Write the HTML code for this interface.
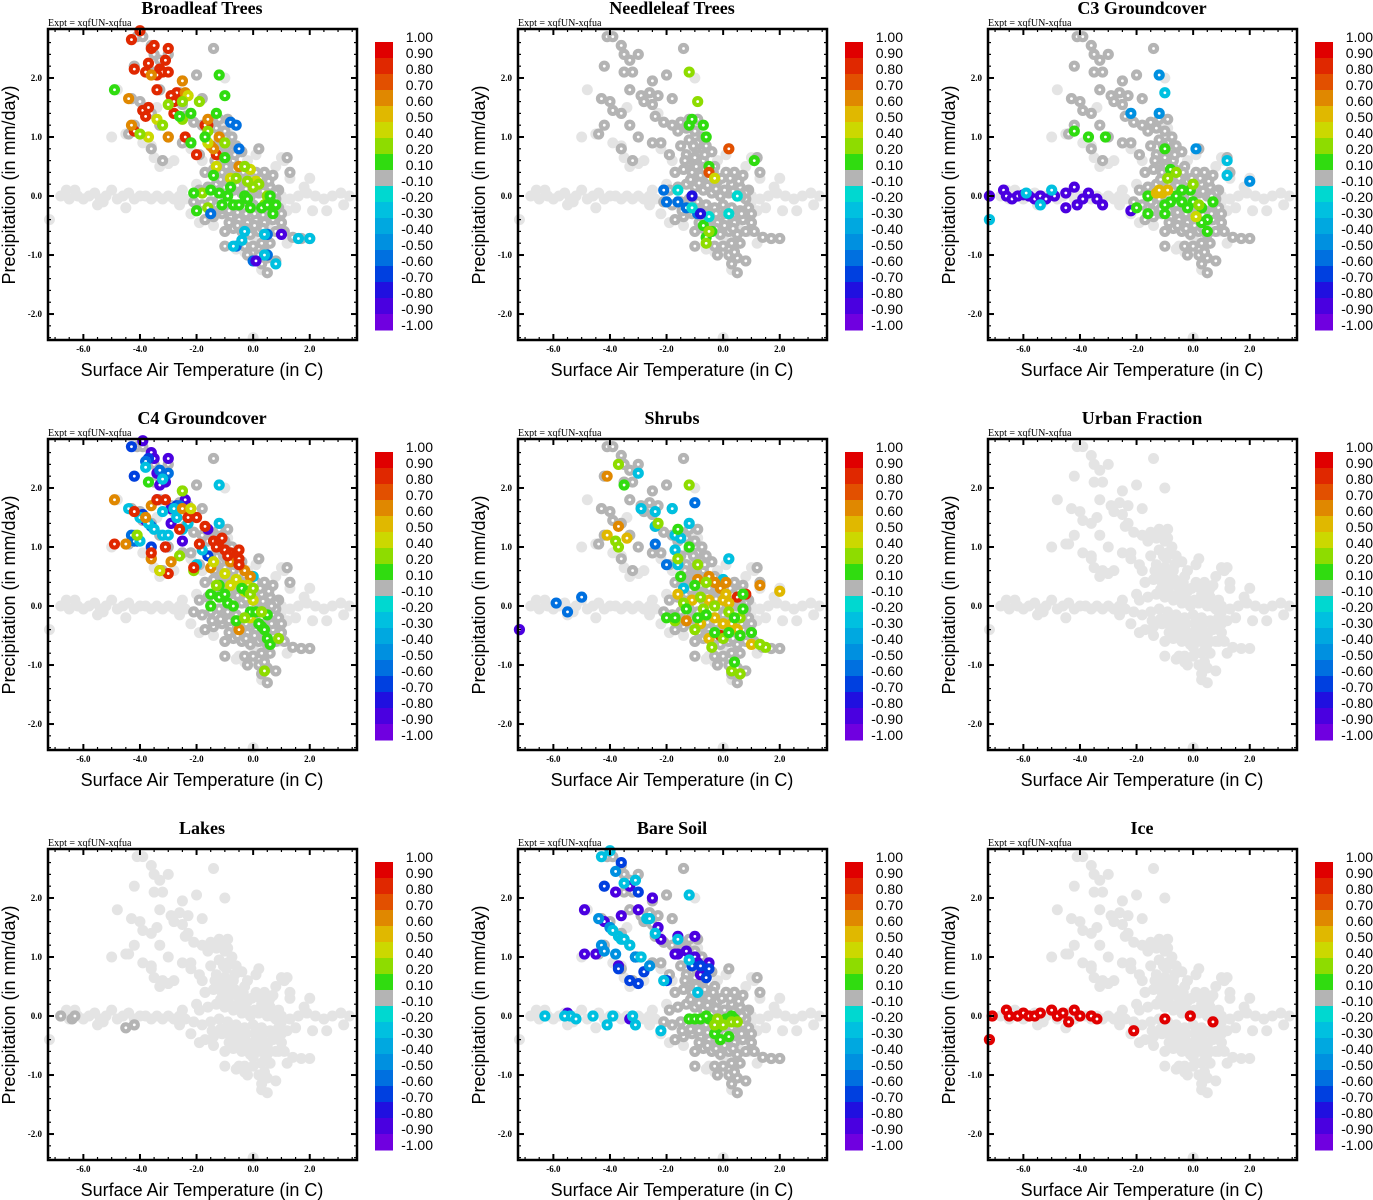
<!DOCTYPE html>
<html><head><meta charset="utf-8"><style>
html,body{margin:0;padding:0;background:#fff;}
svg{display:block;}
</style></head><body>
<svg id="fig" width="1373" height="1200" viewBox="0 0 1373 1200" xmlns="http://www.w3.org/2000/svg"></svg>
<script>
// ---------- data ----------
const panelTitles = ["Broadleaf Trees","Needleleaf Trees","C3 Groundcover","C4 Groundcover","Shrubs","Urban Fraction","Lakes","Bare Soil","Ice"];
const xTicks = [-6,-4,-2,0,2];
const xTickLabels = ["-6.0","-4.0","-2.0","0.0","2.0"];
const yTicks = [-2,-1,0,1,2];
const yTickLabels = ["-2.0","-1.0","0.0","1.0","2.0"];
const cbLabels = ["1.00","0.90","0.80","0.70","0.60","0.50","0.40","0.20","0.10","-0.10","-0.20","-0.30","-0.40","-0.50","-0.60","-0.70","-0.80","-0.90","-1.00"];
const cbBounds = [1,0.9,0.8,0.7,0.6,0.5,0.4,0.2,0.1,-0.1,-0.2,-0.3,-0.4,-0.5,-0.6,-0.7,-0.8,-0.9,-1];
const cbColors = ["#e00000","#e02800","#e25000","#e08800","#e0b800","#ccd800","#8edc00","#30dc10","#b4b4b4","#00d8d0","#00c0e0","#00a8e0","#0090e0","#0070e0","#0040e0","#2010e0","#4a00e0","#7000e0"];

// light background cloud (all panels)
const lightX = [-7.2,-6.8,-6.6,-6.5,-6.2,-6.0,-5.8,-5.6,-5.4,-5.2,-5.0,-4.8,-4.6,-4.4,-4.2,-4.0,-3.8,-3.6,-3.4,-3.2,-3.0,-2.8,-2.6,-2.4,-5.5,-4.5,-5.3,1.0,1.3,1.6,1.9,2.2,2.5,2.8,3.1,3.4,1.2,1.5,2.1,2.6,3.2,1.8,2.0,-6.3,
 -5.0,-4.8,-4.5,-3.6,-3.5,-2.2,-2.8,-3.0,-1.8,-1.2,-0.9,-1.0,1.0,1.1,0.6,1.3,0.0,-0.5,0.5,0.9,1.2,0.3,-3.4,-2.3,
 -2.0,-1.7,-2.2,-0.3,0.0,0.4,1.0,0.8,-0.6,-0.2,0.1,-1.4,-1.9,-2.5,-2.6,-3.9,-3.3];
const lightY = [-0.4,0.0,0.1,-0.05,0.0,-0.05,0.0,0.05,-0.05,0.0,0.1,-0.05,0.0,0.05,-0.05,0.0,0.0,-0.05,0.0,-0.05,0.0,-0.05,0.0,-0.05,-0.15,-0.2,-0.1,0.0,-0.05,0.0,0.05,0.0,-0.05,0.0,0.05,0.0,-0.25,-0.2,-0.25,-0.25,-0.15,0.15,0.3,0.1,
 1.0,1.8,1.05,0.85,0.65,0.8,0.6,0.55,0.6,1.25,1.15,2.0,0.65,0.6,0.3,0.3,-2.4,-0.85,-0.5,-0.6,-0.8,-1.25,1.5,1.4,
 0.2,0.4,-0.3,-0.95,-0.7,-0.75,-0.1,0.5,-0.9,0.6,0.7,-0.5,-0.45,0.1,-0.15,0.9,0.5];

// diagonal core cloud (dark gray in most panels, light in others)
const coreX = [-4.1,-3.9,-3.6,-3.5,-3.3,-3.0,-3.2,-4.2,-3.5,-1.4,-2.0,-2.5,-3.3,-2.9,-2.6,-2.3,-1.8,-4.3,-4.0,-3.9,-3.6,-3.3,-2.8,-2.5,-2.4,-2.1,-1.8,-1.5,-4.2,-4.4,-3.0,-2.5,-2.2,-3.6,-3.2,-1.9,
 -1.6,-1.3,-1.0,-1.2,-0.9,-1.5,-0.6,-0.4,-1.3,-1.0,-0.7,-0.3,0.1,0.4,0.7,-1.7,-1.4,-1.1,-0.8,-0.5,-0.2,0.3,0.6,0.9,-1.9,-1.6,-1.3,-1.0,-0.7,-0.4,-0.1,0.2,0.5,0.8,-2.1,-1.8,-1.5,-1.2,-0.9,-0.6,-0.3,0.0,0.3,0.6,0.9,
 -1.7,-1.4,-1.1,-0.8,-0.5,-0.2,0.1,0.4,0.7,1.0,-1.0,-0.7,-0.4,-0.1,0.2,0.5,0.8,1.1,1.4,1.7,2.0,-0.3,0.0,0.3,0.6,0.2,0.5,0.3,0.5,-0.2,0.8,0.4,1.2,1.3,0.2,-0.9,-1.2,0.8,1.0,-1.0,
 -1.15,-0.85,-0.55,-0.25,0.05,0.35,0.65,-1.45,-1.15,-0.85,-0.55,-0.25,0.05,0.35,0.65,-1.25,-0.95,-0.65,-0.35,-0.05,0.25,0.55,-0.85,-0.55,-0.25,0.05,0.35,-0.95,-0.65,-1.35,-1.05,-0.75];
const coreY = [2.7,2.7,2.55,2.4,2.3,2.4,2.1,2.2,2.1,2.5,2.05,1.95,1.8,1.7,1.75,1.7,1.65,1.65,1.6,1.45,1.4,1.2,1.6,1.55,1.35,1.25,1.2,1.25,1.2,1.05,1.0,0.9,0.9,0.8,0.6,0.7,
 1.1,1.15,1.1,0.95,0.9,0.85,0.85,0.75,0.7,0.65,0.6,0.5,0.4,0.4,0.35,0.4,0.45,0.4,0.35,0.3,0.25,0.2,0.15,0.1,0.1,0.15,0.2,0.15,0.1,0.05,0.0,0.05,0.0,-0.05,-0.1,-0.15,-0.1,-0.05,-0.1,-0.15,-0.2,-0.15,-0.2,-0.25,-0.2,
 -0.4,-0.35,-0.3,-0.35,-0.4,-0.45,-0.4,-0.45,-0.4,-0.45,-0.6,-0.55,-0.6,-0.65,-0.6,-0.65,-0.6,-0.6,-0.7,-0.72,-0.72,-0.85,-0.85,-0.8,-0.8,-1.0,-1.05,-1.15,-1.3,-1.0,-1.1,-0.95,0.65,0.4,0.8,1.3,1.3,0.05,-0.3,-0.85,
 0.28,0.22,0.18,0.12,0.1,0.08,0.0,-0.25,-0.22,-0.25,-0.28,-0.3,-0.3,-0.32,-0.3,0.55,0.5,0.45,0.4,0.3,0.3,0.25,-0.45,-0.5,-0.55,-0.5,-0.55,0.8,0.7,0.6,0.85,1.0];
const coreDark = [true,true,true,true,true,false,false,true,false];

// panel-specific colored points
const p1X=[-4.0,-4.3,-3.6,-3.5,-3.0,-3.1,-3.7,-3.3,-3.2,-3.0,-4.2,-3.8,-3.4,-2.7,-2.9,-2.8,-3.4,-3.9,-3.7,-3.8,-4.2,-2.8,-2.4,-1.6,-1.7,-2.0,-1.3,
 -4.4,-3.6,-2.5,-4.3,-3.0,-1.6,-1.5,-1.4,-1.2,-0.5,-2.4,
 -2.3,-3.4,-3.7,-1.6,-0.1,0.1,-1.3,-0.8,0.0,
 -2.5,-3.0,-1.9,-2.5,-4.0,-3.2,-1.6,-1.0,-0.3,0.2,-0.6,-1.8,-1.6,0.4,0.5,-0.2,0.0,
 -4.9,-1.2,-1.0,-2.2,-2.6,-1.3,-1.7,-2.2,-1.0,-1.4,-1.5,-1.2,-0.8,-0.7,-0.5,-0.3,-0.1,0.3,0.5,0.8,0.7,-0.9,-1.1,-0.2,0.6,-2.0,-2.1,
 -0.8,-0.6,-0.5,0.5,-1.5,-0.6,0.0,0.5,
 -0.4,-0.3,0.4,1.6,2.0,0.4,0.8,-0.7,0.1,1.0];
const p1Y=[2.8,2.65,2.5,2.55,2.5,2.3,2.25,2.15,2.1,2.1,2.15,2.1,2.05,1.75,1.7,1.6,1.8,1.45,1.5,1.35,1.1,1.4,1.0,1.2,1.2,0.7,0.7,
 1.65,2.05,1.95,1.2,1.0,1.3,0.85,0.8,1.0,0.5,1.75,
 1.7,1.3,1.0,0.9,0.45,0.25,0.5,0.3,0.2,
 1.6,1.55,1.6,1.3,1.05,1.2,1.1,0.9,0.5,0.2,0.3,0.05,-0.2,-0.15,0.0,0.25,0.15,
 1.8,2.05,1.7,1.4,1.35,1.4,1.0,0.9,0.65,0.35,0.1,0.05,0.15,-0.15,-0.15,0.0,-0.2,-0.2,-0.15,-0.15,-0.3,0.0,-0.15,-0.05,0.0,-0.25,0.05,
 1.25,1.2,0.8,-0.65,-0.3,-0.85,-1.1,-1.0,
 -0.75,-0.6,-0.65,-0.72,-0.72,-1.0,-1.15,-0.85,-1.1,-0.65];
const p1V=[0.85,0.85,0.85,0.85,0.85,0.85,0.85,0.85,0.85,0.85,0.85,0.85,0.85,0.85,0.85,0.85,0.85,0.85,0.85,0.85,0.85,0.85,0.85,0.85,0.85,0.85,0.85,
 0.65,0.65,0.65,0.65,0.65,0.65,0.65,0.65,0.65,0.65,0.65,
 0.45,0.45,0.45,0.45,0.45,0.45,0.45,0.45,0.45,
 0.3,0.3,0.3,0.3,0.3,0.3,0.3,0.3,0.3,0.3,0.3,0.3,0.3,0.3,0.3,0.3,0.3,
 0.15,0.15,0.15,0.15,0.15,0.15,0.15,0.15,0.15,0.15,0.15,0.15,0.15,0.15,0.15,0.15,0.15,0.15,0.15,0.15,0.15,0.15,0.15,0.15,0.15,0.15,0.15,
 -0.6,-0.6,-0.6,-0.6,-0.6,-0.6,-0.6,-0.6,
 -0.3,-0.3,-0.3,-0.3,-0.3,-0.3,-0.3,-0.3,-0.85,-0.85];

const p2X=[-1.2,-1.1,-0.7,-0.6,1.1,-0.5,-0.7,-0.6,-0.4,-1.2,-0.9,-0.5,-0.6,0.2,-0.5,-0.3,-2.1,-1.6,-0.9,-1.3,-2.0,-1.6,-1.1,0.2,0.5,-0.5,-1.1,-0.8];
const p2Y=[1.2,1.3,1.2,1.0,0.6,0.5,-0.5,-0.7,-0.6,2.1,1.6,-0.6,-0.8,0.8,0.4,0.3,0.1,-0.1,-0.3,-0.2,-0.1,0.1,-0.2,-0.3,0.0,-0.35,0.0,-0.3];
const p2V=[0.15,0.15,0.15,0.15,0.15,0.15,0.15,0.15,0.15,0.3,0.3,0.3,0.3,0.75,0.75,0.45,-0.6,-0.6,-0.6,-0.6,-0.6,-0.2,-0.2,-0.2,-0.2,-0.2,-0.75,-0.75];

const p3X=[-7.2,-6.7,-6.6,-6.4,-6.2,-6.0,-5.8,-5.6,-5.4,-5.2,-4.9,-4.5,-4.5,-4.2,-4.1,-3.9,-3.7,-3.4,-3.2,-2.2,
 -7.2,-5.4,-5.0,-5.9,-1.0,1.2,1.2,
 -2.2,-1.2,-1.2,0.1,2.0,
 -4.2,-3.7,-3.1,-1.0,-1.6,-2.0,-1.6,-0.8,-0.6,-0.4,0.0,0.3,-0.2,0.5,0.5,0.3,-1.0,-0.8,-0.1,0.7,-1.0,-0.4,
 -0.9,0.0,0.2,-0.6,-1.3,-1.1,-1.2,-0.9,0.1];
const p3Y=[0.0,0.1,0.0,-0.05,0.0,0.02,0.0,-0.05,0.0,-0.05,0.0,0.05,-0.2,0.15,-0.15,-0.05,0.05,-0.05,-0.15,-0.25,
 -0.4,-0.15,0.1,0.05,1.75,0.6,0.35,
 1.4,1.4,2.05,0.8,0.25,
 1.1,1.0,1.0,0.8,0.0,-0.2,-0.3,0.45,0.0,0.1,-0.1,-0.2,-0.2,-0.4,-0.6,-0.45,-0.3,-0.1,0.1,-0.1,-0.15,-0.1,
 0.3,0.2,-0.15,0.4,0.05,0.05,0.1,0.1,-0.35];
const p3V=[-0.9,-0.9,-0.9,-0.9,-0.9,-0.9,-0.9,-0.9,-0.9,-0.9,-0.9,-0.9,-0.9,-0.9,-0.9,-0.9,-0.9,-0.9,-0.9,-0.9,
 -0.25,-0.25,-0.25,-0.25,-0.25,-0.25,-0.25,
 -0.5,-0.5,-0.5,-0.5,-0.5,
 0.15,0.15,0.15,0.15,0.15,0.15,0.15,0.15,0.15,0.15,0.15,0.15,0.15,0.15,0.15,0.15,0.15,0.15,0.15,0.15,0.15,0.15,
 0.3,0.3,0.3,0.3,0.5,0.5,0.5,0.5,0.45];

const p4X=[-3.9,-3.6,-3.5,-3.0,-3.4,-3.1,-3.3,-2.4,-3.4,-2.9,-2.9,-3.8,-1.6,-3.1,-2.5,
 -4.3,-4.2,-3.7,-3.1,-2.7,-3.9,-4.1,-3.6,-1.6,
 -3.8,-3.3,-3.0,-4.2,-4.3,-3.6,-2.6,
 -3.8,-3.2,-1.2,-4.4,-3.2,-2.8,-2.7,-4.0,-3.7,-3.5,-3.2,-3.0,-4.0,-2.5,-1.2,-2.3,-1.8,-2.0,0.0,
 -3.7,-2.5,-4.1,-2.6,-2.1,
 -4.9,-4.5,-3.6,-3.8,-3.6,-2.5,-2.9,-3.3,-1.5,-0.3,-0.1,-0.8,-0.5,
 -4.2,-3.4,-3.1,-2.3,-2.0,-2.6,-4.9,-3.6,-3.1,-3.0,-2.1,-1.7,-1.4,-1.2,-1.3,-1.0,-0.8,-0.5,-0.5,-0.9,-0.5,-1.9,-1.1,
 -3.3,-2.2,-1.0,-0.2,-0.4,-0.1,0.0,-1.4,-0.8,-0.1,-0.6,-0.3,
 -1.5,-1.5,-1.2,-1.0,-0.9,-0.7,-0.4,-0.6,-0.1,0.1,0.3,0.5,0.3,0.4,0.2,0.5,0.6,-1.2,-0.2,
 -1.3,0.3,0.9,0.4,-0.3,-0.1,0.0];
const p4Y=[2.8,2.6,2.5,2.5,2.25,2.1,2.05,1.8,1.8,1.65,1.4,1.45,1.3,1.0,1.1,
 2.7,2.2,2.5,2.2,1.7,1.55,1.1,1.0,0.85,
 2.45,2.3,2.25,1.1,1.2,1.35,1.7,
 2.35,2.15,2.05,1.65,1.6,1.65,1.5,1.5,1.4,1.3,1.2,1.2,1.1,1.3,1.4,1.4,0.95,0.7,0.5,
 2.1,1.95,1.2,0.85,0.6,
 1.8,1.05,0.8,1.5,1.7,1.65,0.75,0.6,0.65,0.6,0.5,0.75,-0.4,
 1.6,1.8,1.8,1.5,1.5,1.3,1.05,0.9,1.0,0.55,0.65,1.35,1.1,1.1,1.0,0.95,0.9,0.95,0.8,0.85,0.7,1.05,1.15,
 0.6,1.65,0.55,0.35,0.35,0.2,0.1,0.75,0.35,-0.2,0.45,0.25,
 0.2,0.0,0.15,0.2,0.05,0.0,0.3,-0.25,-0.1,-0.1,-0.1,-0.15,-0.35,-0.4,-0.3,-0.55,-0.65,0.35,0.25,
 0.35,-0.1,-0.55,-1.1,-0.2,0.2,0.3];
const p4V=[-0.9,-0.9,-0.9,-0.9,-0.9,-0.9,-0.9,-0.9,-0.9,-0.9,-0.9,-0.9,-0.9,-0.9,-0.9,
 -0.7,-0.7,-0.7,-0.7,-0.7,-0.7,-0.7,-0.7,-0.7,
 -0.55,-0.55,-0.55,-0.55,-0.55,-0.55,-0.55,
 -0.3,-0.3,-0.3,-0.3,-0.3,-0.3,-0.3,-0.3,-0.3,-0.3,-0.3,-0.3,-0.3,-0.3,-0.3,-0.3,-0.3,-0.3,-0.3,
 0.15,0.3,0.3,0.3,0.3,
 0.65,0.65,0.65,0.65,0.65,0.65,0.65,0.65,0.65,0.65,0.65,0.65,0.65,
 0.85,0.85,0.85,0.85,0.85,0.85,0.85,0.85,0.85,0.85,0.85,0.85,0.85,0.85,0.85,0.85,0.85,0.85,0.85,0.85,0.85,0.85,0.85,
 0.45,0.45,0.45,0.45,0.45,0.45,0.45,0.45,0.45,0.45,0.45,0.45,
 0.15,0.15,0.15,0.15,0.15,0.15,0.15,0.15,0.15,0.15,0.15,0.15,0.15,0.15,0.15,0.15,0.15,0.15,0.15,
 0.3,0.3,0.3,0.3,0.3,0.3,0.3];

const p5X=[-5.9,-5.5,-5.0,-1.0,-2.4,-2.0,-7.2,
 -3.0,-2.9,-2.4,-1.8,-1.2,-2.4,-1.7,-1.5,-1.7,-1.6,0.2,0.0,-1.4,
 -4.1,-3.7,-0.5,-0.3,0.1,1.3,-1.3,-0.1,-0.9,
 -0.1,0.5,0.8,
 -4.1,-3.4,-1.6,-0.5,2.0,1.0,0.0,0.2,-0.3,-0.8,0.3,0.5,-1.1,0.1,-0.5,0.0,
 -3.7,-1.2,-2.3,-3.8,-3.7,-1.6,-0.9,-0.6,1.5,1.3,-0.7,-1.0,0.2,0.6,-1.4,-0.8,-0.3,0.0,0.3,0.6,-0.4,-1.7,
 -3.5,-1.6,-1.2,-1.5,-1.0,-2.0,-1.7,0.7,1.0,0.4,0.2,-0.3,-0.6,0.4,0.7,-1.3,-0.9,0.6];
const p5Y=[0.05,-0.1,0.15,1.75,1.05,0.7,-0.4,
 2.25,1.65,1.6,1.65,1.4,1.35,1.2,1.15,0.95,0.7,0.8,0.45,0.3,
 2.2,1.35,0.5,0.4,0.4,0.35,-0.25,0.3,0.45,
 -0.5,0.15,0.2,
 1.2,1.15,0.2,-0.55,0.25,-0.65,0.1,0.05,-0.2,-0.3,-0.3,-0.4,0.1,0.2,0.1,-0.3,
 2.4,2.05,1.4,1.1,1.0,0.8,0.7,0.4,-0.7,-0.65,-0.05,-0.4,-0.1,-0.2,0.05,0.15,0.0,-0.55,-1.1,-1.15,-0.7,-0.25,
 2.05,1.3,1.0,0.5,0.35,-0.2,-0.2,-0.05,-0.45,-0.95,-0.45,-0.45,-0.15,-0.2,0.2,-0.05,-0.2,-0.5];
const p5V=[-0.6,-0.6,-0.6,-0.6,-0.6,-0.6,-0.85,
 -0.3,-0.3,-0.3,-0.3,-0.3,-0.3,-0.3,-0.3,-0.3,-0.3,-0.3,-0.3,-0.3,
 0.65,0.65,0.65,0.65,0.65,0.65,0.65,0.65,0.65,
 0.8,0.8,0.8,
 0.5,0.5,0.5,0.5,0.5,0.5,0.5,0.5,0.5,0.5,0.5,0.5,0.5,0.5,0.5,0.5,
 0.3,0.3,0.3,0.3,0.3,0.3,0.3,0.3,0.3,0.3,0.3,0.3,0.3,0.3,0.3,0.3,0.3,0.3,0.3,0.3,0.3,0.3,
 0.15,0.15,0.15,0.15,0.15,0.15,0.15,0.15,0.15,0.15,0.15,0.15,0.15,0.15,0.15,0.15,0.15,0.15];

const p6X=[]; const p6Y=[]; const p6V=[];

const p7X=[-6.8,-6.4,-6.3,-4.5,-4.2];
const p7Y=[0.0,-0.05,0.0,-0.2,-0.15];
const p7V=[0.0,0.0,0.0,0.0,0.0];

const p8X=[-4.9,-4.2,-4.9,-4.5,-3.6,-3.8,-3.3,-3.0,-2.5,-2.3,-2.2,-1.0,-1.3,-1.0,-0.7,-1.6,-0.8,-3.7,-3.1,-5.5,-3.3,-1.6,-1.7,-0.5,-0.9,
 -4.2,-3.6,-3.7,-3.0,-3.3,-2.8,-1.1,-0.8,-0.5,-0.6,-2.0,-3.0,
 -3.8,-4.4,-4.0,-4.3,-4.2,-3.8,-3.1,-2.6,
 -4.3,-4.0,-3.5,-3.1,-1.2,-3.9,-3.7,-3.6,-3.5,-3.3,-2.7,-2.9,-2.6,-2.4,-2.1,-1.6,-1.2,-6.3,-5.4,-5.2,-4.6,-4.1,-3.9,-3.1,-2.2,-3.2,-5.6,-0.9,
 -1.2,-1.0,-0.8,-0.5,-0.3,-0.2,-0.1,0.1,0.3,0.4,0.2,-0.6,0.0,
 -0.2,0.0,0.3,0.5,-0.3];
const p8Y=[1.8,1.6,1.05,1.05,1.7,2.1,2.2,1.8,2.0,1.5,1.3,1.35,1.1,1.0,0.8,1.05,0.7,0.85,1.0,0.05,-0.05,1.35,1.05,0.9,0.9,
 2.2,2.6,0.8,0.55,0.6,0.75,0.85,0.85,0.8,0.65,0.6,2.1,
 2.45,1.65,1.5,1.2,1.1,1.05,1.0,0.85,
 2.7,2.8,2.25,2.3,2.05,1.45,1.35,1.3,1.3,1.2,1.65,1.0,1.65,1.4,0.6,1.3,0.95,0.0,0.0,-0.05,0.0,-0.15,0.0,-0.15,-0.25,0.0,0.0,0.4,
 -0.05,-0.05,-0.05,-0.05,-0.3,-0.2,-0.4,-0.05,0.0,-0.05,-0.35,0.0,-0.1,
 -0.05,-0.15,-0.1,-0.1,-0.15];
const p8V=[-0.9,-0.9,-0.9,-0.9,-0.9,-0.9,-0.9,-0.9,-0.9,-0.9,-0.9,-0.9,-0.9,-0.9,-0.9,-0.9,-0.9,-0.9,-0.9,-0.9,-0.9,-0.9,-0.9,-0.9,-0.9,
 -0.7,-0.7,-0.7,-0.7,-0.7,-0.7,-0.7,-0.7,-0.7,-0.7,-0.7,-0.7,
 -0.5,-0.5,-0.5,-0.5,-0.5,-0.5,-0.5,-0.5,
 -0.25,-0.25,-0.25,-0.25,-0.25,-0.25,-0.25,-0.25,-0.25,-0.25,-0.25,-0.25,-0.25,-0.25,-0.25,-0.25,-0.25,-0.25,-0.25,-0.25,-0.25,-0.25,-0.25,-0.25,-0.25,-0.25,-0.25,-0.25,
 0.15,0.15,0.15,0.15,0.15,0.15,0.15,0.15,0.15,0.15,0.15,0.15,0.15,
 0.3,0.3,0.3,0.3,0.3];

const p9X=[-7.2,-7.1,-6.6,-6.5,-6.2,-6.0,-5.8,-5.6,-5.4,-5.0,-4.8,-4.6,-4.4,-4.2,-4.0,-3.6,-3.4,-2.1,-1.0,-0.1,0.7];
const p9Y=[-0.4,0.0,0.1,0.0,0.0,0.05,0.0,0.0,0.05,0.1,0.0,0.05,-0.1,0.1,0.0,0.0,-0.05,-0.25,-0.05,0.0,-0.1];
const p9V=[0.95,0.95,0.95,0.95,0.95,0.95,0.95,0.95,0.95,0.95,0.95,0.95,0.95,0.95,0.95,0.95,0.95,0.95,0.95,0.95,0.95];

const panelX=[p1X,p2X,p3X,p4X,p5X,p6X,p7X,p8X,p9X];
const panelY=[p1Y,p2Y,p3Y,p4Y,p5Y,p6Y,p7Y,p8Y,p9Y];
const panelV=[p1V,p2V,p3V,p4V,p5V,p6V,p7V,p8V,p9V];

// ---------- drawing ----------
const NS="http://www.w3.org/2000/svg";
const fig=document.getElementById('fig');
const L=48,R=357,T=29,B=340, XMIN=-7.25,XMAX=3.67,YMIN=-2.44,YMAX=2.83;
function sx(v){return L+(v-XMIN)/(XMAX-XMIN)*(R-L);}
function sy(v){return B-(v-YMIN)/(YMAX-YMIN)*(B-T);}
function mk(tag,attrs,parent){const e=document.createElementNS(NS,tag);for(const k in attrs)e.setAttribute(k,attrs[k]);parent.appendChild(e);return e;}
function colorFor(v){for(let i=0;i<cbColors.length;i++){if(v>=cbBounds[i+1])return cbColors[i];}return cbColors[cbColors.length-1];}

panelTitles.forEach((title,pi)=>{
  const ox=(pi%3)*470, oy=Math.floor(pi/3)*410;
  const g=mk('g',{transform:`translate(${ox},${oy})`},fig);
  
  

  const t=mk('text',{x:202,y:14,'text-anchor':'middle','font-family':'"Liberation Serif",serif','font-size':18,'font-weight':'bold'},g);
  t.textContent=title;
  
  

  const ex=mk('text',{x:48,y:26,'font-family':'"Liberation Serif",serif','font-size':10},g);
  ex.textContent='Expt = xqfUN-xqfua';
  
  

  const pts=mk('g',{},g);
  
  
  const allLX=lightX.concat(coreX), allLY=lightY.concat(coreY);
  for(let i=0;i<allLX.length;i++){
    const c=mk('circle',{cx:sx(allLX[i]),cy:sy(allLY[i]),r:5.5,fill:'#e4e4e4'},pts);
    
    
  }
  function ring(x,y,col){
    const c=mk('circle',{cx:sx(x),cy:sy(y),r:5.6,fill:col},pts);
    
    
    const h=mk('circle',{cx:sx(x),cy:sy(y),r:1.4,fill:'#fff'},pts);
    
    
  }
  if(coreDark[pi]){
    for(let i=0;i<coreX.length;i++) ring(coreX[i],coreY[i],'#b4b4b4');
  }
  const X=panelX[pi],Y=panelY[pi],V=panelV[pi];
  for(let i=0;i<X.length;i++) ring(X[i],Y[i],colorFor(V[i]));

  const ax=mk('g',{},g);
  
  
  mk('rect',{x:L,y:T,width:R-L,height:B-T,fill:'none',stroke:'#000','stroke-width':2.5},ax);
  for(let v=-7;v<=3.5;v+=0.5){
    const maj=Math.abs(v-Math.round(v/2)*2)<1e-6, len=maj?6:3;
    mk('line',{x1:sx(v),x2:sx(v),y1:B,y2:B-len,stroke:'#000','stroke-width':maj?2:1.2},ax);
    mk('line',{x1:sx(v),x2:sx(v),y1:T,y2:T+len,stroke:'#000','stroke-width':maj?2:1.2},ax);
  }
  for(let v=-2.4;v<=2.8;v+=0.2){
    const r=Math.round(v*10)/10, maj=Math.abs(r-Math.round(r))<1e-6, len=maj?6:3;
    mk('line',{x1:L,x2:L+len,y1:sy(r),y2:sy(r),stroke:'#000','stroke-width':maj?2:1.2},ax);
    mk('line',{x1:R,x2:R-len,y1:sy(r),y2:sy(r),stroke:'#000','stroke-width':maj?2:1.2},ax);
  }
  xTicks.forEach((v,i)=>{
    const tl=mk('text',{x:sx(v),y:352,'text-anchor':'middle','font-family':'"Liberation Serif",serif','font-size':9,'font-weight':'bold'},ax);
    tl.textContent=xTickLabels[i];
    
    
  });
  yTicks.forEach((v,i)=>{
    const tl=mk('text',{x:42,y:sy(v)+3,'text-anchor':'end','font-family':'"Liberation Serif",serif','font-size':9,'font-weight':'bold'},ax);
    tl.textContent=yTickLabels[i];
    
    
  });
  const xt=mk('text',{x:202,y:376,'text-anchor':'middle','font-family':'"Liberation Sans",sans-serif','font-size':18},g);
  xt.textContent='Surface Air Temperature (in C)';
  
  
  const yt=mk('text',{x:0,y:0,transform:'translate(15,185) rotate(-90)','text-anchor':'middle','font-family':'"Liberation Sans",sans-serif','font-size':18},g);
  yt.textContent='Precipitation (in mm/day)';
  
  

  const cb=mk('g',{},g);
  
  
  cbColors.forEach((c,i)=>{
    const r=mk('rect',{x:375,y:42+i*16,width:18,height:16.5,fill:c},cb);
    
    
  });
  cbLabels.forEach((s,i)=>{
    const tl=mk('text',{x:433,y:42+i*16,'text-anchor':'end','font-family':'"Liberation Sans",sans-serif','font-size':14},cb);
    tl.textContent=s;
    
    
  });
});
</script>
</body></html>
